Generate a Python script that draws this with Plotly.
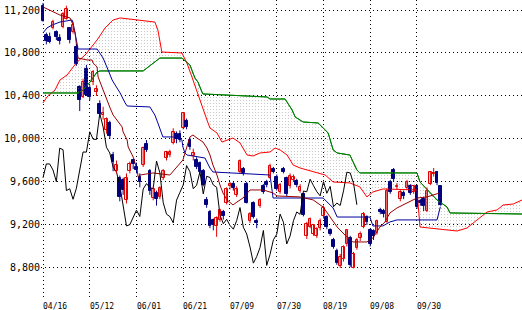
import plotly.graph_objects as go

# ---------------- data ----------------
date_labels = ["04/16", "05/12", "06/01", "06/21", "07/09", "07/30", "08/19", "09/08", "09/30"]
date_pos = [0, 14, 28, 42, 56, 70, 84, 98, 112]
price_ticks = [8800, 9200, 9600, 10000, 10400, 10800, 11200]

opens = [11240, 10970, 10950, 11030, 11000, 10940, 11040, 11120, 11030, 11000,
         10860, 10480, 10390, 10650, 10470, 10530, 10440, 10330, 10220, 10080,
         10150, 9850, 9700, 9640, 9620, 9430, 9700, 9800, 9740, 9650,
         9760, 9950, 9700, 9450, 9500, 9460, 9640, 9820, 9850, 9960,
         10050, 10050, 10100, 10170, 9990, 9840, 9805, 9775, 9700, 9430,
         9320, 9250, 9190, 9250, 9320, 9400, 9560, 9580, 9480, 9690,
         9720, 9580, 9240, 9400, 9240, 9380, 9560, 9600, 9640, 9720,
         9650, 9510, 9720, 9640, 9560, 9620, 9610, 9520, 9490, 9100,
         9180, 9120, 9100, 9170, 9280, 9270, 9150, 9060, 8960, 8820,
         8880, 9020, 9080, 8800, 8990, 9080, 9180, 9270, 9150, 9140,
         9130, 9340, 9330, 9230, 9600, 9710, 9550, 9440, 9500, 9540,
         9560, 9510, 9560, 9420, 9440, 9330, 9580, 9670, 9690, 9560]
highs = [11265, 10990, 10990, 11110, 11010, 10975, 11180, 11240, 11040, 11090,
         10880, 10500, 10560, 10690, 10500, 10640, 10500, 10360, 10300, 10200,
         10170, 9880, 9800, 9660, 9640, 9680, 9790, 9810, 9780, 9680,
         9930, 9990, 9720, 9560, 9520, 9560, 9720, 9890, 9900, 10100,
         10070, 10080, 10251, 10190, 10010, 9910, 9830, 9790, 9720, 9460,
         9340, 9260, 9280, 9350, 9340, 9550, 9600, 9600, 9560, 9810,
         9740, 9600, 9320, 9420, 9260, 9450, 9580, 9620, 9770, 9740,
         9670, 9590, 9740, 9650, 9680, 9670, 9630, 9580, 9500, 9230,
         9270, 9210, 9180, 9260, 9380, 9290, 9170, 9080, 8980, 8930,
         9010, 9160, 9100, 8950, 9080, 9140, 9320, 9290, 9170, 9160,
         9250, 9360, 9350, 9540, 9620, 9730, 9590, 9530, 9520, 9620,
         9580, 9570, 9570, 9440, 9460, 9550, 9700, 9730, 9700, 9570]
lows = [11090, 10880, 10890, 11020, 10920, 10880, 11030, 11110, 10890, 10980,
        10680, 10260, 10380, 10400, 10360, 10500, 10400, 10200, 10180, 10050,
        10000, 9700, 9680, 9420, 9480, 9400, 9680, 9720, 9680, 9550,
        9740, 9880, 9480, 9430, 9380, 9440, 9620, 9800, 9830, 9950,
        9960, 9970, 10090, 10090, 9900, 9800, 9720, 9680, 9560, 9360,
        9170, 9150, 9090, 9230, 9250, 9390, 9530, 9520, 9460, 9680,
        9660, 9400, 9220, 9260, 9170, 9360, 9490, 9550, 9630, 9680,
        9520, 9490, 9680, 9470, 9540, 9600, 9550, 9500, 9280, 9070,
        9170, 9100, 9080, 9150, 9260, 9160, 9100, 8980, 8830, 8800,
        8860, 9000, 8810, 8796, 8970, 9050, 9170, 9200, 9000, 9060,
        9110, 9300, 9270, 9220, 9490, 9600, 9530, 9420, 9440, 9530,
        9480, 9490, 9350, 9380, 9330, 9320, 9570, 9650, 9570, 9380]
closes = [11102, 10909, 10906, 11090, 10949, 10914, 11165, 11212, 10924, 11057,
          10695, 10364, 10530, 10411, 10394, 10620, 10462, 10235, 10242, 10186,
          10030, 9784, 9758, 9459, 9522, 9639, 9768, 9768, 9711, 9603,
          9914, 9901, 9520, 9537, 9439, 9542, 9705, 9879, 9878, 10067,
          9999, 9995, 10238, 10112, 9923, 9870, 9737, 9693, 9570, 9382,
          9191, 9203, 9266, 9338, 9279, 9535, 9585, 9548, 9537, 9795,
          9685, 9408, 9300, 9278, 9220, 9431, 9503, 9573, 9753, 9696,
          9537, 9570, 9694, 9489, 9653, 9642, 9572, 9551, 9292, 9212,
          9253, 9196, 9161, 9240, 9362, 9179, 9116, 8995, 8845, 8906,
          8991, 9149, 8824, 8927, 9062, 9114, 9301, 9226, 9024, 9098,
          9239, 9321, 9299, 9516, 9509, 9626, 9566, 9510, 9471, 9603,
          9495, 9559, 9369, 9404, 9381, 9518, 9691, 9684, 9588, 9388]

chikou_shift = 25

tenkan_x = [0, 2.1, 3, 5.1, 8.1, 9, 9.6, 10.2, 10.5, 13.2, 14.7, 15, 16.2, 16.5, 17.7,
            19.2, 20.1, 21, 22.2, 23.7, 24, 25.2, 25.5, 27, 28.2, 28.5, 29.1, 32.9, 38,
            40.1, 41.9, 44, 44.9, 46.1, 47.9, 49.1, 50, 50.9, 52.1, 53, 53.9, 55.1, 56,
            56.9, 58.1, 59.9, 62, 65.9, 68.9, 70.1, 77, 80.9, 83.9, 86, 88.1, 91, 92.8,
            97, 98.8, 100.9, 102.4, 103.9, 106, 109, 112, 115, 119]
tenkan_y = [11228, 11200, 11181, 11153, 11126, 11060, 10986, 10847, 10753, 10735, 10735,
            10707, 10670, 10577, 10474, 10363, 10288, 10223, 10177, 10112, 10065, 9991,
            9926, 9833, 9712, 9647, 9665, 9684, 9665, 9740, 9805, 10019, 10037, 10009,
            9972, 9916, 9851, 9758, 9665, 9572, 9498, 9433, 9405, 9386, 9414, 9451, 9526,
            9526, 9498, 9470, 9461, 9433, 9367, 9274, 9181, 9088, 9042, 9042, 9079, 9181,
            9228, 9312, 9358, 9405, 9451, 9461, 9500]

kijun_x = [0, 1.2, 2.7, 5.1, 8.7, 9, 9.6, 10.2, 10.5, 16.2, 17.1, 18, 19.5, 20.7, 21.6,
           23.1, 24.6, 25.2, 32, 33.5, 34.4, 35.6, 35.9, 40.1, 41.6, 41.9, 42.5, 43.1,
           48.5, 50, 50.9, 68, 68.9, 83.9, 86.9, 88.1, 97.9, 98.8, 101.8, 103.9, 106,
           118, 119]
kijun_y = [10986, 11033, 11060, 11088, 11107, 11079, 10986, 10856, 10837, 10837, 10800,
           10753, 10642, 10549, 10502, 10428, 10335, 10307, 10298, 10223, 10149, 10056,
           10019, 10019, 9991, 9926, 9870, 9851, 9823, 9730, 9693, 9665, 9451, 9451,
           9358, 9274, 9274, 9191, 9191, 9228, 9247, 9247, 9370]

span_a_x = [0, 1.2, 3.6, 5.1, 7.2, 10.2, 12.6, 16.2, 18.6, 21, 23.1, 33.5, 34.4, 35.6,
            41.6, 43.1, 44.6, 46.1, 47.6, 49.1, 50, 52.1, 53.6, 55.4, 56.9, 59, 61.1,
            62.9, 65, 68, 69.5, 71, 73.1, 74, 74.9, 77, 79.1, 82.1, 84.5, 86.9, 91.9,
            94.9, 97, 98.8, 101.8, 112, 112.9, 124, 127, 130, 133, 136, 137.8, 140.8, 143.5]
span_a_y = [10335, 10391, 10456, 10549, 10595, 10716, 10781, 10921, 11033, 11107, 11126,
            11088, 11014, 10809, 10800, 10707, 10577, 10437, 10298, 10177, 10102, 10056,
            9972, 9991, 10009, 9963, 9851, 9842, 9870, 9879, 9916, 9898, 9851, 9805, 9758,
            9730, 9712, 9684, 9665, 9600, 9591, 9554, 9461, 9507, 9535, 9526, 9181, 9144,
            9172, 9247, 9321, 9340, 9386, 9395, 9433]

span_b_x = [0, 10.5, 12, 14.1, 16.2, 17.1, 30, 34.1, 35, 41.6, 43.1, 44, 45.5, 46.4,
            47.6, 47.9, 67.1, 68, 72.5, 74.6, 75.5, 77.9, 82.4, 83.9, 85.4, 86.9, 88.1,
            91.9, 94, 94.9, 112, 112.9, 115.9, 118, 121, 121.9, 143.5]
span_b_y = [10428, 10428, 10456, 10530, 10623, 10633, 10633, 10735, 10753, 10753, 10716,
            10688, 10567, 10530, 10437, 10419, 10391, 10372, 10372, 10270, 10205, 10158,
            10149, 10102, 10056, 9898, 9870, 9851, 9712, 9684, 9684, 9600, 9507, 9433,
            9367, 9312, 9302]

# ---------------- styles ----------------
UP = "#e00000"
DOWN = "#000080"
FONT = "DejaVu Sans Mono"
LW = 1

fig = go.Figure()

# cloud (between leading spans)
fig.add_trace(go.Scatter(x=span_b_x, y=span_b_y, mode="lines",
                         line=dict(color="#008000", width=LW), hoverinfo="skip"))
fig.add_trace(go.Scatter(x=span_a_x, y=span_a_y, mode="lines", fill="tonexty",
                         fillcolor="rgba(255,255,255,0)",
                         fillpattern=dict(shape=".", fgcolor="#808080", bgcolor="rgba(255,255,255,0)",
                                          size=3, solidity=0.12),
                         line=dict(color="#ff0000", width=LW), hoverinfo="skip"))
fig.add_trace(go.Scatter(x=span_b_x, y=span_b_y, mode="lines",
                         line=dict(color="#008000", width=LW), hoverinfo="skip"))

# kijun, tenkan, chikou
fig.add_trace(go.Scatter(x=kijun_x, y=kijun_y, mode="lines",
                         line=dict(color="#0000a0", width=LW), hoverinfo="skip"))
fig.add_trace(go.Scatter(x=tenkan_x, y=tenkan_y, mode="lines",
                         line=dict(color="#990000", width=LW), hoverinfo="skip"))
chik_x = list(range(len(closes) - chikou_shift))
fig.add_trace(go.Scatter(x=chik_x, y=closes[chikou_shift:], mode="lines",
                         line=dict(color="#000000", width=LW), hoverinfo="skip"))

# candles: wicks
n = len(closes)
wx_up, wy_up, wx_dn, wy_dn = [], [], [], []
for i in range(n):
    if closes[i] >= opens[i]:
        wx_up += [i, i, None]; wy_up += [lows[i], highs[i], None]
    else:
        wx_dn += [i, i, None]; wy_dn += [lows[i], highs[i], None]
fig.add_trace(go.Scatter(x=wx_up, y=wy_up, mode="lines", line=dict(color=UP, width=1), hoverinfo="skip"))
fig.add_trace(go.Scatter(x=wx_dn, y=wy_dn, mode="lines", line=dict(color=DOWN, width=1), hoverinfo="skip"))

# candles: bodies
base = [min(o, c) for o, c in zip(opens, closes)]
height = [max(abs(c - o), 8) for o, c in zip(opens, closes)]
fill = ["#fff0f0" if c >= o else DOWN for o, c in zip(opens, closes)]
edge = [UP if c >= o else DOWN for o, c in zip(opens, closes)]
fig.add_trace(go.Bar(x=list(range(n)), y=height, base=base, width=0.8,
                     marker=dict(color=fill, line=dict(color=edge, width=1)), hoverinfo="skip"))

# x labels (left-aligned at grid lines)
for p, t in zip(date_pos, date_labels):
    fig.add_annotation(x=p, y=0, xref="x", yref="paper", text=t, showarrow=False,
                       xanchor="left", yanchor="top", yshift=-3, xshift=-2,
                       font=dict(family=FONT, size=8, color="#000000"))

grid = dict(showgrid=True, gridcolor="#000000", gridwidth=1, griddash="1px,3px")
fig.update_layout(
    width=522, height=310,
    margin=dict(l=41, r=0, t=0, b=13),
    paper_bgcolor="white", plot_bgcolor="white",
    showlegend=False, bargap=0,
    xaxis=dict(range=[-0.6, 143.45], tickvals=date_pos, showticklabels=False,
               zeroline=False, showline=False, ticks="", **grid),
    yaxis=dict(range=[8530, 11293], tickvals=price_ticks, tickformat=",",
               zeroline=False, showline=False, ticks="",
               tickfont=dict(family=FONT, size=10, color="#000000"), **grid),
)

fig.write_html("out.html")
